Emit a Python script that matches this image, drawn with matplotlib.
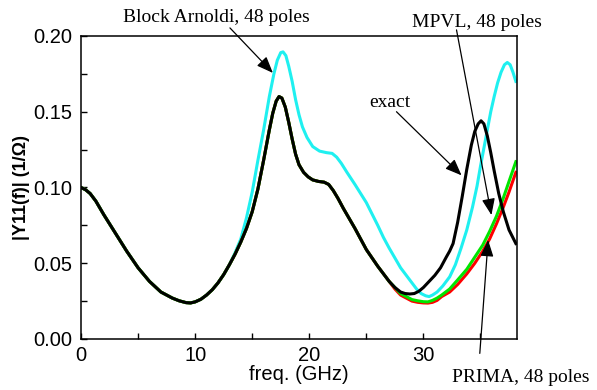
#!/usr/bin/env python3
"""|Y11(f)| of exact response vs. reduced-order models (48 poles)."""

import matplotlib
matplotlib.use("Agg")
import matplotlib.pyplot as plt


# low-frequency part, shared by every curve (GHz, 1/Ohm)
low_f = [0, 0.4, 0.8, 1.3, 2, 3, 4, 5, 6, 7, 8, 8.6, 9.2, 9.6, 10, 10.5,
         11, 11.5, 12, 12.5, 13]
low_y = [0.100, 0.0985, 0.096, 0.091, 0.082, 0.070, 0.058, 0.047, 0.038,
         0.031, 0.027, 0.0252, 0.0240, 0.0238, 0.0245, 0.0262, 0.029, 0.0325,
         0.037, 0.0425, 0.049]

# exact response above 13 GHz
exact_f = [13.5, 14, 14.5, 15, 15.5, 16, 16.5, 16.8, 17.1, 17.35, 17.6, 17.9,
           18.2, 18.5, 18.8, 19.1, 19.5, 19.9, 20.3, 20.8, 21.3, 21.7, 22.1,
           22.5, 23, 24, 25, 26, 27, 27.5, 28, 28.4, 28.8, 29.2, 29.6, 30,
           30.5, 31, 31.5, 32, 32.3, 32.6, 33.0, 33.4, 33.8, 34.2, 34.5, 34.8,
           35.05, 35.3, 35.6, 35.9, 36.2, 36.6, 37.0, 37.5, 38.1]
exact_y = [0.056, 0.064, 0.073, 0.084, 0.099, 0.118, 0.138, 0.149, 0.157,
           0.160, 0.159, 0.153, 0.143, 0.132, 0.122, 0.115, 0.110, 0.107,
           0.105, 0.104, 0.1035, 0.102, 0.098, 0.093, 0.086, 0.073, 0.059,
           0.048, 0.038, 0.034, 0.031, 0.030, 0.0297, 0.030, 0.0315, 0.034,
           0.038, 0.042, 0.047, 0.054, 0.058, 0.063, 0.077, 0.094, 0.112,
           0.128, 0.137, 0.142, 0.144, 0.142, 0.134, 0.123, 0.111, 0.096,
           0.084, 0.072, 0.063]

# Block Arnoldi above 13 GHz
arnoldi_f = [13.5, 14, 14.5, 15, 15.5, 16, 16.5, 16.9, 17.2, 17.5, 17.7,
             17.95, 18.2, 18.5, 18.8, 19.1, 19.4, 19.8, 20.3, 20.9, 21.5, 22.0,
             22.4, 22.8, 23.3, 24, 25, 26, 26.5, 27, 28, 29, 29.4, 29.8, 30.2,
             30.5, 30.8, 31.2, 31.7, 32.3, 32.8, 33.3, 33.8, 34.3, 34.7, 35.0,
             35.3, 35.6, 35.9, 36.2, 36.5, 36.8, 37.1, 37.35, 37.6, 37.85, 38.1]
arnoldi_y = [0.057, 0.066, 0.080, 0.097, 0.118, 0.138, 0.160, 0.175, 0.184,
             0.189, 0.1895, 0.187, 0.180, 0.170, 0.158, 0.148, 0.140, 0.133,
             0.127, 0.124, 0.123, 0.1225, 0.120, 0.116, 0.110, 0.102, 0.090,
             0.075, 0.067, 0.060, 0.047, 0.037, 0.033, 0.030, 0.0285, 0.028,
             0.029, 0.031, 0.035, 0.041, 0.049, 0.060, 0.072, 0.087, 0.101,
             0.114, 0.126, 0.138, 0.150, 0.160, 0.169, 0.176, 0.181, 0.1825,
             0.181, 0.176, 0.170]

# MPVL and PRIMA depart from exact above ~27 GHz
mpvl_f = [27.5, 28, 28.5, 29, 29.5, 30, 30.4, 30.8, 31.2, 31.6, 32.3, 33,
          33.8, 34.5, 35.2, 35.8, 36.4, 37, 37.5, 38.1]
mpvl_y = [0.034, 0.030, 0.028, 0.026, 0.0252, 0.0246, 0.0245, 0.0255, 0.027,
          0.029, 0.033, 0.039, 0.046, 0.054, 0.062, 0.071, 0.081, 0.093,
          0.104, 0.117]

prima_f = [27.5, 28, 28.5, 29, 29.5, 30, 30.4, 30.8, 31.2, 31.6, 32.3, 33,
           33.8, 34.5, 35.2, 35.8, 36.4, 37, 37.5, 38.1]
prima_y = [0.033, 0.029, 0.027, 0.025, 0.0242, 0.0238, 0.0237, 0.0242,
           0.0255, 0.028, 0.031, 0.036, 0.043, 0.050, 0.058, 0.066, 0.076,
           0.087, 0.097, 0.110]

SANS = "Liberation Sans"
SERIF = "Liberation Serif"


def upto(f, y, fmax):
    keep = [i for i, v in enumerate(f) if v <= fmax]
    return [f[i] for i in keep], [y[i] for i in keep]


def main():
    fig = plt.figure(figsize=(5.97, 3.90), dpi=100)
    ax = fig.add_axes([0.1357, 0.1308, 0.7303, 0.777])

    ex_f = low_f + exact_f
    ex_y = low_y + exact_y
    ba_f = low_f + arnoldi_f
    ba_y = low_y + arnoldi_y
    head_f, head_y = upto(ex_f, ex_y, 27)
    mp_f = head_f + mpvl_f
    mp_y = head_y + mpvl_y
    pr_f = head_f + prima_f
    pr_y = head_y + prima_y

    lw = 2.2
    ax.plot(ba_f, ba_y, color="#1ff0f0", lw=lw, solid_joinstyle="round")
    ax.plot(pr_f, pr_y, color="#ff0000", lw=lw, solid_joinstyle="round")
    ax.plot(mp_f, mp_y, color="#00e600", lw=lw, solid_joinstyle="round")
    ax.plot(ex_f, ex_y, color="black", lw=lw, solid_joinstyle="round")

    ax.set_xlim(0, 38.2)
    ax.set_ylim(0, 0.2)
    ax.set_xticks([0, 10, 20, 30])
    ax.set_xticks([5, 15, 25, 35], minor=True)
    ax.set_yticks([0.0, 0.05, 0.10, 0.15, 0.20])
    ax.set_yticks([0.025, 0.075, 0.125, 0.175], minor=True)
    ax.set_yticklabels(["0.00", "0.05", "0.10", "0.15", "0.20"])
    ax.tick_params(which="both", direction="in", top=False, right=False,
                   length=4, width=1, labelsize=14.5)
    ax.tick_params(axis="y", pad=6.5)
    ax.tick_params(axis="x", pad=5)
    for lab in ax.get_xticklabels() + ax.get_yticklabels():
        lab.set_family(SANS)
    for sp in ax.spines.values():
        sp.set_linewidth(1.1)

    ax.set_xlabel("freq. (GHz)", family=SANS, fontsize=14.5, labelpad=0)
    ax.set_ylabel("|Y11(f)| (1/\u03a9)", family=SANS, fontsize=13,
                  fontweight="bold", labelpad=2)

    arrow = dict(arrowstyle="-|>,head_length=1.0,head_width=0.4",
                 mutation_scale=10, lw=0.9, color="black",
                 shrinkA=0, shrinkB=0)
    notes = [
        ("Block Arnoldi, 48 poles", (11.86, 0.2092), (13.05, 0.2053), (16.81, 0.1756)),
        ("MPVL, 48 poles", (34.67, 0.2059), (32.9, 0.204), (35.96, 0.0818)),
        ("exact", (27.1, 0.1531), (27.64, 0.150), (33.34, 0.108)),
        ("PRIMA, 48 poles", (38.5, -0.0282), (34.94, -0.0095), (35.67, 0.0653)),
    ]
    for label, pos, start, tip in notes:
        ax.text(pos[0], pos[1], label, family=SERIF, fontsize=14,
                ha="center", va="baseline", clip_on=False)
        ax.annotate("", xy=tip, xytext=start, arrowprops=arrow,
                    annotation_clip=False)

    fig.savefig("out.png", dpi=100)
    plt.close(fig)


if __name__ == "__main__":
    main()
